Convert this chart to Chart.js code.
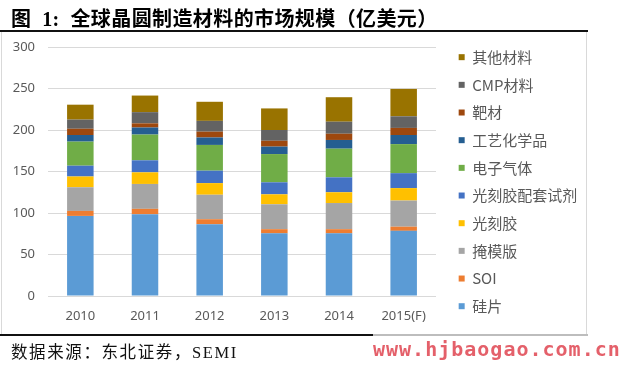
<!DOCTYPE html>
<html>
<head>
<meta charset="utf-8">
<script src="https://cdn.jsdelivr.net/npm/chart.js@4/dist/chart.umd.min.js"></script>
<style>
  html, body { margin: 0; padding: 0; background: #fff; }
  body { width: 623px; height: 377px; position: relative; overflow: hidden; }
  #chart { position: absolute; left: 0; top: 0; }
  .title {
    position: absolute; left: 11px; top: 3px; white-space: pre;
    font-family: "Liberation Serif", "Noto Sans CJK SC", serif;
    font-weight: bold; font-size: 20px; letter-spacing: 0.4px; color: #000;
  }
  .topline { position: absolute; left: 0; top: 30px; width: 588px; height: 2px; background: #111; }
  .frame { position: absolute; left: 1px; top: 32px; width: 584px; height: 302px; border: 1px solid #d9d9d9; border-top: none; pointer-events: none; }
  .botline1 { position: absolute; left: 0; top: 334px; width: 373px; height: 2px; background: #111; }
  .botline2 { position: absolute; left: 373px; top: 334px; width: 215px; height: 2px; background: #bdbdbd; }
  .source {
    position: absolute; left: 11px; top: 339px; white-space: pre;
    font-family: "Liberation Serif", "Noto Sans CJK SC", serif;
    font-size: 16.5px; letter-spacing: 1.6px; color: #111;
  }
  .mark {
    position: absolute; left: 373px; top: 337px; white-space: pre;
    font-family: "DejaVu Sans Mono", monospace; font-weight: bold;
    font-size: 20px; letter-spacing: 1px; color: #e4606a;
  }
</style>
</head>
<body>
<canvas id="chart" width="623" height="377"></canvas>
<div class="title">图  1:  全球晶圆制造材料的市场规模（亿美元）</div>
<div class="topline"></div>
<div class="frame"></div>
<div class="botline1"></div>
<div class="botline2"></div>
<div class="source">数据来源：东北证券，SEMI</div>
<div class="mark">www.hjbaogao.com.cn</div>
<script>
  // 数据（亿美元）
  const years = ['2010', '2011', '2012', '2013', '2014', '2015(F)'];
  const wafer = [96.5, 98.5, 86.5, 75.5, 75.5, 78.5];
  const soi = [6, 6.5, 6, 5, 5, 5];
  const mask = [28.5, 30, 29.5, 30, 31.5, 31.5];
  const photoresist = [13, 14, 14, 12, 13, 15];
  const ancillary = [13, 14.5, 15, 14.5, 18, 18];
  const gases = [29, 31, 31, 34, 34.5, 35];
  const wetChem = [8, 8.5, 9, 9, 10.5, 11];
  const targets = [7.5, 5, 7, 7, 7.5, 8.5];
  const cmp = [11, 13.5, 13, 13, 14.5, 14];
  const others = [18, 20, 23, 26, 29.5, 33];
  const yTicks = [0, 50, 100, 150, 200, 250, 300];

  const series = [
    { label: '硅片', data: wafer, color: '#5b9bd5' },
    { label: 'SOI', data: soi, color: '#ed7d31' },
    { label: '掩模版', data: mask, color: '#a5a5a5' },
    { label: '光刻胶', data: photoresist, color: '#ffc000' },
    { label: '光刻胶配套试剂', data: ancillary, color: '#4472c4' },
    { label: '电子气体', data: gases, color: '#70ad47' },
    { label: '工艺化学品', data: wetChem, color: '#255e91' },
    { label: '靶材', data: targets, color: '#9e480e' },
    { label: 'CMP材料', data: cmp, color: '#636363' },
    { label: '其他材料', data: others, color: '#997300' }
  ];

  // 图例位置微调
  const legendNudge = {
    id: 'legendNudge',
    afterLayout(chart) {
      const lg = chart.legend;
      lg.left += 10;
      lg.right += 10;
      lg.top -= 10;
      lg.bottom -= 10;
    }
  };

  const ctx = document.getElementById('chart').getContext('2d');
  new Chart(ctx, {
    type: 'bar',
    data: {
      labels: years,
      datasets: series.map(s => ({
        label: s.label,
        data: s.data,
        backgroundColor: s.color,
        borderWidth: 0,
        categoryPercentage: 1,
        barPercentage: 0.41
      }))
    },
    options: {
      responsive: false,
      animation: false,
      devicePixelRatio: 1,
      layout: { padding: { left: 13, top: 47, right: 46, bottom: 0 } },
      plugins: {
        legend: {
          position: 'right',
          align: 'start',
          reverse: true,
          labels: {
            boxWidth: 6,
            boxHeight: 6,
            padding: 12.67,
            color: '#595959',
            font: { family: 'Noto Sans CJK SC', size: 15 }
          }
        },
        tooltip: { enabled: false }
      },
      scales: {
        x: {
          stacked: true,
          grid: { display: false },
          border: { display: false },
          ticks: {
            color: '#595959',
            padding: 4,
            font: { family: 'Noto Sans', size: 13 }
          },
          afterFit(scale) { scale.height = 81; }
        },
        y: {
          stacked: true,
          min: 0,
          max: 300,
          afterBuildTicks(scale) { scale.ticks = yTicks.map(v => ({ value: v })); },
          grid: { color: '#d9d9d9', drawTicks: false },
          border: { display: false },
          ticks: {
            color: '#595959',
            padding: 13,
            font: { family: 'Noto Sans', size: 13 }
          },
          afterFit(scale) { scale.width = 35; }
        }
      }
    },
    plugins: [legendNudge]
  });
</script>
</body>
</html>
